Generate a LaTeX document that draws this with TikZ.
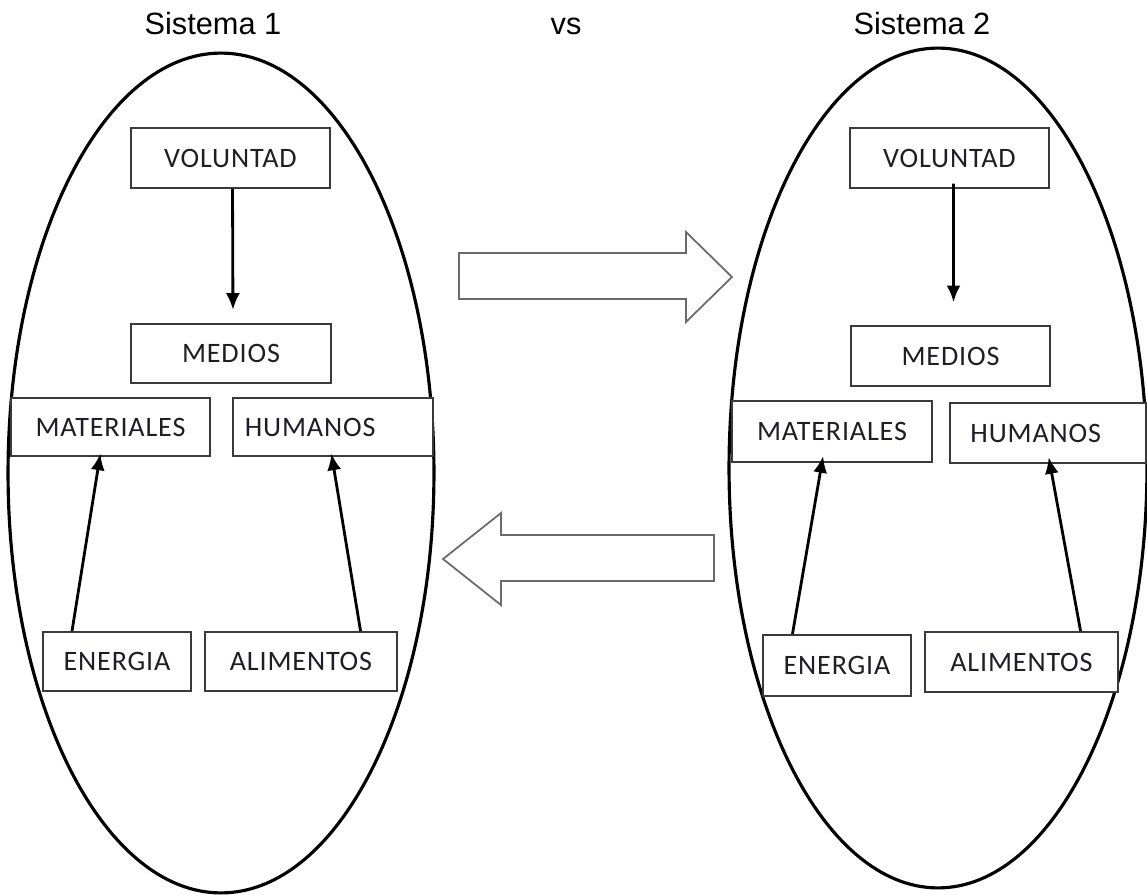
\documentclass[tikz,border=0pt]{standalone}
\usepackage{fontspec}
\setmainfont{Carlito}[LetterSpace=3]
\newfontfamily\titlefont{Liberation Sans}
\usetikzlibrary{arrows.meta,calc}
\definecolor{boxline}{HTML}{3A3A3A}
\definecolor{blockline}{HTML}{6A6A6A}
\definecolor{labeltext}{HTML}{1E1E28}
\begin{document}
\begin{tikzpicture}[x=0.02cm,y=-0.02cm,
  sysline/.style={line width=1.8pt},
  box/.style 2 args={draw=boxline, line width=1.1pt, fill=white, inner sep=0pt,
    minimum width=#1*0.02cm, minimum height=#2*0.02cm,
    font=\fontsize{16}{19}\selectfont, text=labeltext},
  link/.style={line width=1.6pt, -{Latex[length=9.5pt,width=8pt]}},
  bigarrow/.style={draw=blockline, line width=1pt, fill=white, line join=miter},
  title/.style={font=\titlefont\fontsize{17.5}{20}\selectfont, anchor=base}]

\useasboundingbox (0,0) rectangle (1147,895);

% the two systems
\draw[sysline] (221,473) ellipse [x radius=4.26cm, y radius=8.4cm];
\draw[sysline] (938,468) ellipse [x radius=4.18cm, y radius=8.4cm];

% headings
\node[title] (t1) at (213,35) {Sistema 1};
\node[title] (tvs) at (566,35) {vs};
\node[title] (t2) at (922,35) {Sistema 2};

% system 1
\node[box={199}{60}] (VOL1) at (230.5,158) {VOLUNTAD};
\node[box={200}{59}] (MED1) at (231,353.5) {MEDIOS};
\node[box={199}{58}] (MAT1) at (110.5,427) {MATERIALES};
\node[box={200}{58}] (HUM1) at (333,427) {\hspace*{-26pt}HUMANOS};
\node[box={148}{59}] (ENE1) at (117,661.5) {ENERGIA};
\node[box={192}{59}] (ALI1) at (301,661.5) {ALIMENTOS};

% system 2
\node[box={199}{60}] (VOL2) at (949.5,158) {VOLUNTAD};
\node[box={199}{60}] (MED2) at (950.5,356) {MEDIOS};
\node[box={200}{61}] (MAT2) at (832,431.5) {MATERIALES};
\node[box={196}{60}] (HUM2) at (1048,433) {\hspace*{-14pt}HUMANOS};
\node[box={148}{61}] (ENE2) at (837,665.5) {ENERGIA};
\node[box={193}{60}] (ALI2) at (1021.5,662) {ALIMENTOS};

% connectors, system 1
\draw[link, shorten >=7.5pt] ($(VOL1.south west)!0.51!(VOL1.south east)$) -- ($(MED1.north west)!0.51!(MED1.north east)$);
\draw[link, shorten >=-2pt] ($(ENE1.north west)!0.2!(ENE1.north east)$) -- ($(MAT1.south west)!0.447!(MAT1.south east)$);
\draw[link, shorten >=-2pt] ($(ALI1.north west)!0.807!(ALI1.north east)$) -- ($(HUM1.south west)!0.495!(HUM1.south east)$);

% connectors, system 2
\draw[link, shorten >=13pt, shorten <=-3pt] ($(VOL2.south west)!0.52!(VOL2.south east)$) -- ($(MED2.north west)!0.515!(MED2.north east)$);
\draw[link, shorten >=-4pt] ($(ENE2.north west)!0.203!(ENE2.north east)$) -- ($(MAT2.south west)!0.45!(MAT2.south east)$);
\draw[link, shorten >=-4pt] ($(ALI2.north west)!0.803!(ALI2.north east)$) -- ($(HUM2.south west)!0.51!(HUM2.south east)$);

% exchange arrows between the systems
\draw[bigarrow] (459,253) -- (686,253) -- (686,232) -- (732,277) -- (686,322) -- (686,299) -- (459,299) -- cycle;
\draw[bigarrow] (714,535) -- (501,535) -- (501,513) -- (443,559) -- (501,605) -- (501,581) -- (714,581) -- cycle;

\end{tikzpicture}
\end{document}
